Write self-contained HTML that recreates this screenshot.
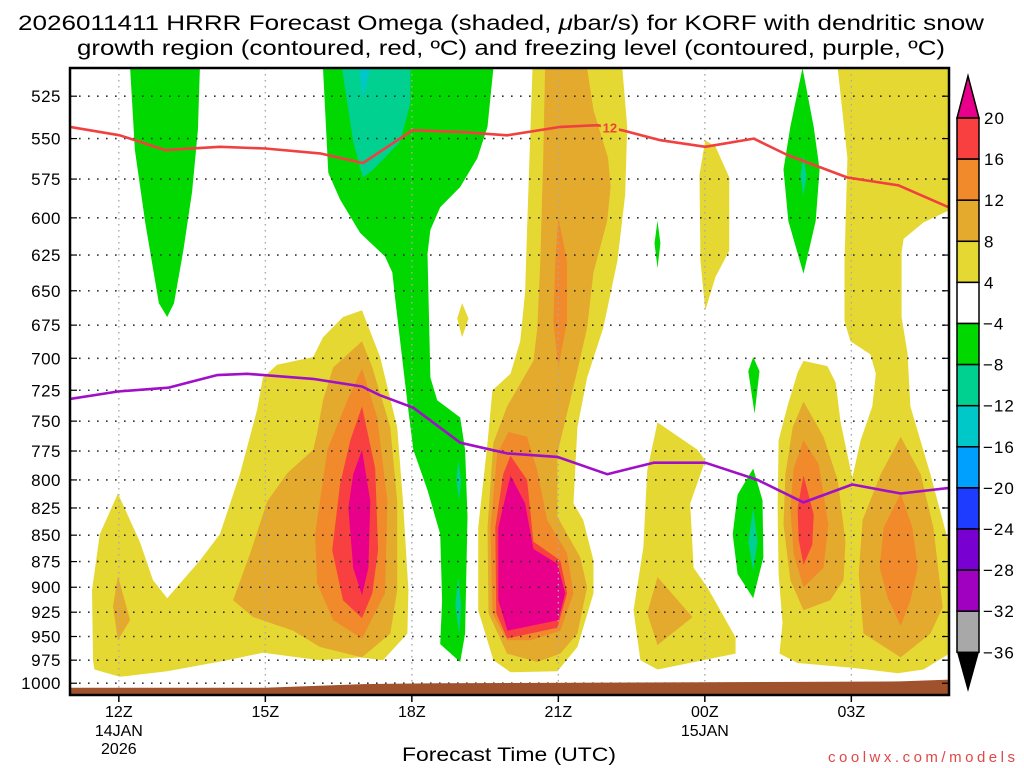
<!DOCTYPE html>
<html><head><meta charset="utf-8"><title>HRRR Omega KORF</title>
<style>
html,body{margin:0;padding:0;background:#fff;}
svg{display:block;font-family:"Liberation Sans",sans-serif;}
</style></head>
<body>
<svg id="chart" width="1024" height="768" viewBox="0 0 1024 768" xmlns="http://www.w3.org/2000/svg">
<text x="501" y="30" font-size="21" text-anchor="middle" textLength="966" lengthAdjust="spacingAndGlyphs">2026011411 HRRR Forecast Omega (shaded, <tspan font-style="italic">μ</tspan>bar/s) for KORF with dendritic snow</text>
<text x="511" y="55" font-size="21" text-anchor="middle" textLength="868" lengthAdjust="spacingAndGlyphs">growth region (contoured, red, ºC) and freezing level (contoured, purple, ºC)</text>
<g id="plot"></g>
<g id="axes"></g>
<g id="cbar"></g>
<text x="509" y="761" font-size="19" text-anchor="middle" textLength="214" lengthAdjust="spacingAndGlyphs">Forecast Time (UTC)</text>
<text x="1015" y="762" font-size="15" text-anchor="end" fill="#e04848" textLength="187" lengthAdjust="spacing">coolwx.com/models</text>
</svg>
<script>
// ---- data (hours since 00Z 14JAN; pressure hPa) ----
const xTickHours = [12, 15, 18, 21, 24, 27];
const xTickLabels = ["12Z", "15Z", "18Z", "21Z", "00Z", "03Z"];
const xTickDates = ["14JAN", "", "", "", "15JAN", ""];
const xTickYears = ["2026", "", "", "", "", ""];
const pressureLevels = [525,550,575,600,625,650,675,700,725,750,775,800,825,850,875,900,925,950,975,1000];
const cbarLabels = ["20","16","12","8","4","\u22124","\u22128","\u221212","\u221216","\u221220","\u221224","\u221228","\u221232","\u221236"];

const yellowRegions = [
 [[11.47,975],[11.45,903],[11.61,849],[11.98,812],[12.43,856],[12.70,893],[12.99,911],[13.66,874],[14.07,849],[14.48,795],[14.83,741],[14.95,715],[15.24,705],[15.98,699],[16.18,684],[16.59,669],[16.98,664],[17.35,699],[17.70,755],[17.82,819],[17.93,903],[17.91,947],[17.41,975],[16.94,972],[16.12,975],[14.95,967],[14.22,975],[12.99,987],[12.02,993],[11.50,985]],
 [[19.03,659],[19.16,670],[19.03,684],[18.93,670]],
 [[20.47,509],[20.43,543],[20.36,607],[20.32,651],[20.22,687],[20.02,712],[19.65,725],[19.55,768],[19.36,843],[19.36,923],[19.67,975],[20.02,988],[20.98,987],[21.39,961],[21.72,906],[21.72,874],[21.51,836],[21.31,821],[21.39,755],[21.59,715],[21.92,677],[22.21,629],[22.37,585],[22.41,543],[22.31,509]],
 [[23.03,751],[23.85,774],[24.01,783],[23.70,821],[23.77,881],[24.05,900],[24.63,951],[24.63,968],[23.03,985],[22.68,975],[22.54,923],[22.74,862],[22.82,792]],
 [[24.01,551],[24.22,555],[24.50,574],[24.50,622],[24.22,640],[24.01,664],[23.91,629],[23.89,572]],
 [[26.72,509],[26.92,562],[26.86,629],[26.86,672],[26.98,687],[27.39,697],[27.50,712],[27.43,738],[27.19,766],[27.02,798],[26.78,751],[26.68,719],[26.51,706],[26.02,702],[25.90,711],[25.69,738],[25.51,766],[25.49,825],[25.51,887],[25.59,936],[25.53,968],[25.90,978],[26.98,983],[27.95,989],[28.48,985],[29.01,968],[29.01,860],[28.62,795],[28.21,738],[28.15,696],[28.03,669],[28.03,623],[28.07,614],[28.48,603],[29.01,595],[29.01,509]]
];
const goldRegions = [
 [[14.34,913],[14.69,867],[15.04,819],[15.45,794],[15.98,774],[16.06,760],[16.18,733],[16.39,707],[16.98,687],[17.19,707],[17.56,755],[17.70,819],[17.70,903],[17.56,947],[16.98,972],[16.12,961],[15.57,944],[14.75,930]],
 [[11.98,889],[12.23,933],[11.98,954],[11.88,919]],
 [[20.73,509],[20.69,562],[20.63,629],[20.57,677],[20.49,702],[19.95,738],[19.67,768],[19.55,843],[19.57,926],[19.95,968],[20.57,977],[21.04,968],[21.39,947],[21.59,900],[21.45,871],[20.98,833],[20.98,777],[21.41,706],[21.59,677],[21.72,637],[22.00,602],[22.07,580],[22.02,562],[21.72,533],[21.59,509]],
 [[23.03,890],[23.75,930],[23.03,959],[22.82,926]],
 [[26.02,734],[26.43,763],[26.72,800],[26.88,856],[26.84,893],[26.57,913],[26.02,923],[25.75,893],[25.61,840],[25.65,795],[25.80,755]],
 [[28.01,763],[28.42,795],[28.68,843],[28.87,920],[28.62,947],[28.01,972],[27.25,947],[27.15,887],[27.23,836],[27.60,795]]
];
const orangeRegions = [
 [[16.98,708],[17.29,747],[17.50,819],[17.45,906],[16.98,952],[16.39,933],[16.06,896],[16.02,849],[16.27,774],[16.68,733]],
 [[21.00,600],[21.18,629],[21.18,672],[21.00,707],[20.90,672],[20.94,629]],
 [[19.98,759],[20.36,763],[20.57,792],[20.77,836],[21.18,867],[21.31,906],[21.04,944],[20.43,954],[19.95,954],[19.65,926],[19.61,843],[19.75,777]],
 [[26.02,766],[26.33,786],[26.53,840],[26.43,881],[26.02,900],[25.82,868],[25.75,825],[25.82,790]],
 [[28.01,812],[28.25,843],[28.36,881],[28.21,913],[28.01,939],[27.74,910],[27.58,881],[27.66,843]]
];
const redRegions = [
 [[16.98,738],[17.25,790],[17.31,864],[17.19,906],[16.98,931],[16.59,913],[16.37,864],[16.53,804],[16.74,766]],
 [[20.02,779],[20.36,800],[20.49,856],[21.04,874],[21.18,906],[20.98,941],[19.95,952],[19.73,926],[19.71,843],[19.87,795]],
 [[26.02,796],[26.23,831],[26.20,859],[26.02,878],[25.92,854],[25.90,825]]
];
const magentaRegions = [
 [[16.98,774],[17.15,819],[17.11,881],[16.98,908],[16.80,881],[16.70,825],[16.80,795]],
 [[20.02,796],[20.32,821],[20.49,863],[20.98,877],[21.14,906],[21.00,933],[19.96,944],[19.77,913],[19.77,843]]
];
const greenRegions = [
 [[12.23,509],[12.33,557],[12.54,603],[12.82,659],[12.99,669],[13.13,659],[13.32,622],[13.50,583],[13.62,545],[13.66,509]],
 [[16.18,509],[16.29,571],[16.53,588],[16.94,610],[17.45,626],[17.60,637],[17.66,656],[17.91,735],[18.03,774],[18.32,809],[18.58,849],[18.62,913],[18.58,958],[18.99,977],[19.09,947],[19.14,833],[19.09,774],[18.99,747],[18.52,733],[18.38,715],[18.32,624],[18.38,608],[18.58,593],[18.99,580],[19.34,562],[19.55,543],[19.67,509]],
 [[26.00,509],[26.23,543],[26.35,569],[26.27,602],[26.02,638],[25.71,602],[25.61,569],[25.75,543]],
 [[23.03,602],[23.09,617],[23.03,634],[22.97,617]],
 [[24.99,699],[25.12,710],[25.02,744],[24.89,710]],
 [[24.99,790],[25.18,818],[25.20,871],[24.99,911],[24.67,887],[24.57,849],[24.67,813]]
];
const tealRegions = [
 [[16.57,509],[17.97,509],[17.97,529],[17.76,552],[17.21,569],[17.00,574],[16.80,552]],
 [[18.95,783],[19.01,800],[18.97,818],[18.91,800]],
 [[18.95,890],[19.01,918],[18.97,947],[18.89,918]],
 [[26.02,560],[26.08,573],[26.02,586],[25.96,573]],
 [[24.99,825],[25.08,856],[24.99,884],[24.89,856]]
];
const cyanRegions = [
 [[16.92,509],[17.15,509],[17.00,526]]
];
const dgzHours = [11.00,12.02,12.95,14.07,15.00,16.12,17.00,18.01,18.99,19.95,21.04,21.80,22.31,23.09,24.01,25.00,25.69,25.96,26.92,27.97,28.99];
const dgzPress = [543,548,557,555,556,559,565,545,546,548,543,542,545,551,555,550,560,563,574,579,593];
const frzHours = [11.00,11.98,13.01,14.01,14.63,15.98,16.98,17.35,18.03,18.99,19.95,20.98,22.00,22.95,24.01,25.08,26.02,27.02,28.01,29.01];
const frzPress = [732,726,723,713,712,716,722,729,739,768,777,780,795,785,785,800,820,804,812,807];
const terrainHours = [11, 15, 17, 18.5, 24, 28, 29];
const terrainPress = [1005, 1005, 1001, 1000, 999, 998, 996];

// ---- scales ----
const X0 = 70, X1 = 949, Y0 = 68, Y1 = 695;
const H0 = 11, H1 = 29, P0 = 509, P1 = 1013;
function xs(h){ return X0 + (h - H0) / (H1 - H0) * (X1 - X0); }
function ys(p){ return Y0 + Math.log(p / P0) / Math.log(P1 / P0) * (Y1 - Y0); }
const NS = "http://www.w3.org/2000/svg";
function mk(tag, parent){ const e = document.createElementNS(NS, tag); parent.appendChild(e); return e; }
const plot = document.getElementById('plot');
const axes = document.getElementById('axes');
const cbar = document.getElementById('cbar');

const clip = mk('clipPath', plot); clip.setAttribute('id','pclip');
const cr = mk('rect', clip); cr.setAttribute('x',X0); cr.setAttribute('y',Y0); cr.setAttribute('width',X1-X0); cr.setAttribute('height',Y1-Y0);
const g = mk('g', plot); g.setAttribute('clip-path','url(#pclip)');

function drawRegions(list, color, name){
  list.forEach(function(poly){
    const el = mk('polygon', g);
    el.setAttribute('points', poly.map(function(pt){ return xs(pt[0]).toFixed(1)+','+ys(pt[1]).toFixed(1); }).join(' '));
    el.setAttribute('fill', color);
    
    
  });
}
drawRegions(yellowRegions, '#e6d832', 'omega-4-8-region');
drawRegions(goldRegions, '#e3aa2e', 'omega-8-12-region');
drawRegions(orangeRegions, '#f08a2a', 'omega-12-16-region');
drawRegions(redRegions, '#f84040', 'omega-16-20-region');
drawRegions(magentaRegions, '#e8008a', 'omega-above-20-region');
drawRegions(greenRegions, '#00d800', 'omega-minus4-minus8-region');
drawRegions(tealRegions, '#00d090', 'omega-minus8-minus12-region');
drawRegions(cyanRegions, '#00c8c8', 'omega-minus12-minus16-region');

// grid
pressureLevels.forEach(function(p){
  const l = mk('line', g);
  l.setAttribute('x1',X0); l.setAttribute('x2',X1); l.setAttribute('y1',ys(p)); l.setAttribute('y2',ys(p));
  l.setAttribute('stroke','#333'); l.setAttribute('stroke-width','1.6'); l.setAttribute('stroke-dasharray','1.6,7.4');
  
  
});
xTickHours.forEach(function(h){
  const l = mk('line', g);
  l.setAttribute('x1',xs(h)); l.setAttribute('x2',xs(h)); l.setAttribute('y1',Y0); l.setAttribute('y2',Y1);
  l.setAttribute('stroke','#aaa'); l.setAttribute('stroke-width','1.4'); l.setAttribute('stroke-dasharray','1.5,4.5');
  
  
});

// terrain
const tpts = terrainHours.map(function(h,i){ return xs(h).toFixed(1)+','+ys(terrainPress[i]).toFixed(1); });
tpts.push(X1+','+Y1); tpts.push(X0+','+Y1);
const terr = mk('polygon', g);
terr.setAttribute('points', tpts.join(' '));
terr.setAttribute('fill','#a0522d');



// lines
function drawLine(hs, ps, color, name){
  const pl = mk('polyline', g);
  pl.setAttribute('points', hs.map(function(h,i){ return xs(h).toFixed(1)+','+ys(ps[i]).toFixed(1); }).join(' '));
  pl.setAttribute('fill','none'); pl.setAttribute('stroke',color); pl.setAttribute('stroke-width','2.6');
  pl.setAttribute('stroke-linejoin','round');
  
  
}
drawLine(dgzHours, dgzPress, '#f04040', 'dgz-minus12-contour');
drawLine(frzHours, frzPress, '#a010c8', 'freezing-level-contour');
// contour label "12"
const lh = (dgzHours[11] + dgzHours[12]) / 2, lp = (dgzPress[11] + dgzPress[12]) / 2;
const lbg = mk('rect', g);
lbg.setAttribute('x', xs(lh)-9); lbg.setAttribute('y', ys(lp)-8); lbg.setAttribute('width',18); lbg.setAttribute('height',14);
lbg.setAttribute('fill','#e6d832');


const lt = mk('text', g);
lt.setAttribute('x', xs(lh)); lt.setAttribute('y', ys(lp)+5); lt.setAttribute('text-anchor','middle');
lt.setAttribute('font-size','13'); lt.setAttribute('font-weight','bold'); lt.setAttribute('fill','#f04040');
lt.textContent = '12';



// frame
const fr = mk('rect', axes);
fr.setAttribute('x',X0); fr.setAttribute('y',Y0); fr.setAttribute('width',X1-X0); fr.setAttribute('height',Y1-Y0);
fr.setAttribute('fill','none'); fr.setAttribute('stroke','#000'); fr.setAttribute('stroke-width','2.5');



pressureLevels.forEach(function(p){
  const t = mk('text', axes);
  t.setAttribute('x', 61); t.setAttribute('y', ys(p)+6); t.setAttribute('text-anchor','end');
  t.setAttribute('font-size','17'); t.setAttribute('letter-spacing','0.5');
  t.textContent = String(p);
  
  
  [X0, X1-7].forEach(function(x){
    const tk = mk('line', axes);
    tk.setAttribute('x1',x); tk.setAttribute('x2',x+7); tk.setAttribute('y1',ys(p)); tk.setAttribute('y2',ys(p));
    tk.setAttribute('stroke','#000'); tk.setAttribute('stroke-width','1.2');
    
    
  });
});
xTickHours.forEach(function(h,i){
  const tk = mk('line', axes);
  tk.setAttribute('x1',xs(h)); tk.setAttribute('x2',xs(h)); tk.setAttribute('y1',Y1); tk.setAttribute('y2',Y1+7);
  tk.setAttribute('stroke','#000'); tk.setAttribute('stroke-width','1.5');
  
  
  [[xTickLabels[i],717],[xTickDates[i],736],[xTickYears[i],754]].forEach(function(pair){
    if(!pair[0]) return;
    const t = mk('text', axes);
    t.setAttribute('x', xs(h)); t.setAttribute('y', pair[1]); t.setAttribute('text-anchor','middle');
    t.setAttribute('font-size','16');
    t.textContent = pair[0];
    
    
  });
});

// colorbar
const cbColors = ['#f84040','#f08a2a','#e3aa2e','#e6d832','#ffffff','#00d800','#00d090','#00c8c8','#00a0ff','#1e3cff','#7800d0','#a000c0','#a8a8a8'];
const CBX = 957, CBW = 22, CBT = 118, CBH = 41.1;
const tri1 = mk('polygon', cbar);
tri1.setAttribute('points', CBX+','+CBT+' '+(CBX+CBW)+','+CBT+' '+(CBX+CBW/2)+',76');
tri1.setAttribute('fill','#e8008a'); tri1.setAttribute('stroke','#000'); tri1.setAttribute('stroke-width','1.5');


cbColors.forEach(function(c,i){
  const r = mk('rect', cbar);
  r.setAttribute('x',CBX); r.setAttribute('y',CBT+i*CBH); r.setAttribute('width',CBW); r.setAttribute('height',CBH);
  r.setAttribute('fill',c); r.setAttribute('stroke','#000'); r.setAttribute('stroke-width','1.5');
  
  
});
const cbBottom = CBT + cbColors.length*CBH;
const tri2 = mk('polygon', cbar);
tri2.setAttribute('points', CBX+','+cbBottom+' '+(CBX+CBW)+','+cbBottom+' '+(CBX+CBW/2)+',692');
tri2.setAttribute('fill','#000');


cbarLabels.forEach(function(s,i){
  const t = mk('text', cbar);
  t.setAttribute('x', s.charAt(0)==='\u2212' ? 983 : 984); t.setAttribute('y', CBT+i*CBH+6);
  t.setAttribute('font-size','17'); t.setAttribute('letter-spacing','1');
  t.textContent = s;
  
  
});
</script>
</body></html>
